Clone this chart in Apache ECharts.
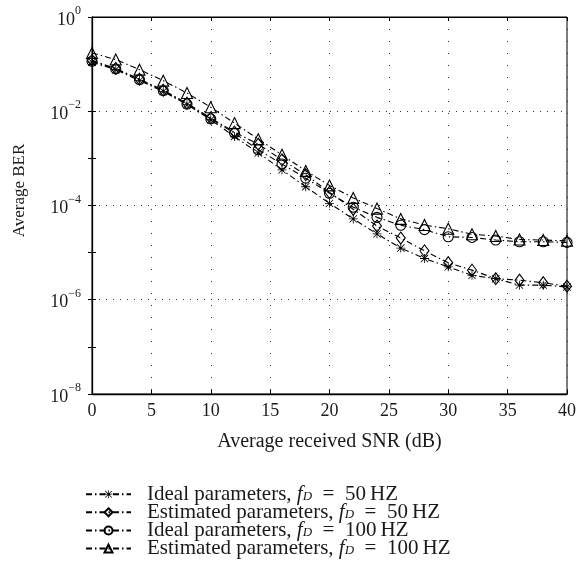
<!DOCTYPE html>
<html>
<head>
<meta charset="utf-8">
<script src="https://cdn.jsdelivr.net/npm/echarts@6/dist/echarts.min.js"></script>
<style>html,body{margin:0;padding:0;background:#fff;}#c{width:579px;height:575px;}</style>
</head>
<body>
<div id="c"></div>
<script>
var snr = [0,2,4,6,8,10,12,14,16,18,20,22,24,26,28,30,32,34,36,38,40];
var ideal50 = [0.11,0.076,0.0447,0.0263,0.0138,0.0066,0.0029,0.00131,5.7e-4,2.5e-4,1.11e-4,5.2e-5,2.5e-5,1.25e-5,7.5e-6,5.0e-6,3.3e-6,2.8e-6,2.04e-6,2.04e-6,1.87e-6];
var est50 = [0.12,0.081,0.048,0.028,0.0148,0.0072,0.0036,0.0020,9.3e-4,4.5e-4,1.9e-4,8.3e-5,3.66e-5,2.04e-5,1.09e-5,6.1e-6,4.25e-6,2.8e-6,2.6e-6,2.3e-6,1.94e-6];
var ideal100 = [0.115,0.079,0.0468,0.0273,0.0142,0.0069,0.00344,0.00152,7.6e-4,3.8e-4,1.82e-4,9.2e-5,5.6e-5,3.8e-5,3.07e-5,2.17e-5,2.1e-5,1.85e-5,1.7e-5,1.7e-5,1.65e-5];
var est100 = [0.173,0.125,0.0764,0.0446,0.0244,0.0122,0.0056,0.00256,0.00119,5.42e-4,2.67e-4,1.45e-4,8.6e-5,5.2e-5,3.85e-5,3.2e-5,2.45e-5,2.25e-5,1.9e-5,1.85e-5,1.78e-5];
var seriesNames = ['Ideal parameters, fD = 50 HZ','Estimated parameters, fD = 50 HZ','Ideal parameters, fD = 100 HZ','Estimated parameters, fD = 100 HZ'];
var legendLabels = [['Ideal parameters, ','50'],['Estimated parameters, ','50'],['Ideal parameters, ','100'],['Estimated parameters, ','100']];
var xTicks = {min:0, max:40, step:5};

var FONT = '"Liberation Serif", "DejaVu Serif", serif';
var TXT = '#1a1a1a';
var asterisk = 'path://M9.1 0L10.9 0L10.9 20L9.1 20ZM0 9.1L20 9.1L20 10.9L0 10.9ZM2.5 1.2L18.8 17.5L17.5 18.8L1.2 2.5ZM17.5 1.2L18.8 2.5L2.5 18.8L1.2 17.5Z';
var dashDot = [6,3,1.5,3];

function pairs(ys){ return snr.map(function(x,i){ return [x, ys[i]]; }); }
function mk(name, ys, symbol, size){
  return {
    name: name, type:'line', data: pairs(ys), xAxisIndex:0, yAxisIndex:0,
    symbol: symbol, symbolSize: size, showAllSymbol:true,
    lineStyle:{color:'#000', width:1.1, type:dashDot},
    itemStyle:{color: symbol===asterisk ? '#000' : 'rgba(255,255,255,0)', borderColor:'#000', borderWidth: symbol===asterisk?0:1.1},
    emphasis:{disabled:true}, animation:false, z:3
  };
}
function supLabel(v){
  var e = Math.round(Math.log(v)/Math.LN10);
  if (e % 2 !== 0) return '';
  var s = e < 0 ? '\u2212' + (-e) : '' + e;
  return '{b|10}{s|' + s + '}';
}
var labelRich = {
  b:{fontFamily:FONT, fontSize:18, color:TXT, lineHeight:24, verticalAlign:'bottom'},
  s:{fontFamily:FONT, fontSize:12, color:TXT, lineHeight:24, verticalAlign:'top'}
};
var chart = echarts.init(document.getElementById('c'), null, {renderer:'canvas'});
chart.setOption({
  animation:false,
  backgroundColor:'#fff',
  grid:{left:92, right:10, top:17, bottom:181, show:true, borderColor:'#000', borderWidth:1, backgroundColor:'transparent'},
  xAxis:[
    {type:'value', min:xTicks.min, max:xTicks.max, interval:xTicks.step, position:'bottom',
     axisLine:{lineStyle:{color:'#000', width:1.3}}, axisTick:{inside:true, length:4, lineStyle:{color:'#000'}},
     axisLabel:{fontFamily:FONT, fontSize:18, color:TXT, margin:8},
     splitLine:{show:true, lineStyle:{color:'#333', width:1, type:[1,11]}},
     name:'Average received SNR (dB)', nameLocation:'middle', nameGap:38,
     nameTextStyle:{fontFamily:FONT, fontSize:20, color:TXT}},
    {type:'value', min:xTicks.min, max:xTicks.max, interval:xTicks.step, position:'top',
     axisLine:{show:true, lineStyle:{color:'#000'}}, axisTick:{inside:true, length:4, lineStyle:{color:'#000'}},
     axisLabel:{show:false}, splitLine:{show:false}}
  ],
  yAxis:[
    {type:'log', logBase:10, min:1e-8, max:1, interval:1, position:'left',
     axisLine:{show:true, lineStyle:{color:'#000', width:1.3}}, axisTick:{inside:true, length:4, lineStyle:{color:'#000'}},
     axisLabel:{formatter:supLabel, rich:labelRich, margin:11},
     splitLine:{show:false},
     name:'Average BER', nameLocation:'middle', nameGap:64,
     nameTextStyle:{fontFamily:FONT, fontSize:17, color:TXT, padding:[0,0,0,30]}},
    {type:'log', logBase:10, min:1e-8, max:1, interval:1, position:'right',
     axisLine:{show:true, lineStyle:{color:'#000'}}, axisTick:{inside:true, length:4, lineStyle:{color:'#000'}},
     axisLabel:{show:false}, splitLine:{show:false}},
    {type:'log', logBase:10, min:1e-8, max:1, interval:2, position:'right', offset:0,
     axisLine:{show:false}, axisTick:{show:false}, axisLabel:{show:false},
     splitLine:{show:true, lineStyle:{color:'#333', width:1, type:[1,6]}}}
  ],
  legend:{
    orient:'vertical', left:85, top:483, padding:0, itemWidth:45, itemHeight:10, itemGap:-3.5,
    data:seriesNames,
    formatter:function(n){ var i = seriesNames.indexOf(n); var l = legendLabels[i];
      return '{n|' + l[0] + '}{i|f}{d|D}{n|  =  ' + l[1] + '\u2009HZ}'; },
    textStyle:{fontFamily:FONT, fontSize:21, color:TXT, padding:[0,0,0,11],
      rich:{
        n:{fontFamily:FONT, fontSize:21, color:TXT, lineHeight:17.7},
        i:{fontFamily:FONT, fontSize:21, fontStyle:'italic', color:TXT, lineHeight:17.7},
        d:{fontFamily:FONT, fontSize:13, fontStyle:'italic', color:TXT, lineHeight:17.7, verticalAlign:'bottom', padding:[7,0,0,0]}
      }},
    selectedMode:false
  },
  series:[
    mk(seriesNames[0], ideal50, asterisk, 9),
    mk(seriesNames[1], est50, 'diamond', [9,12]),
    mk(seriesNames[2], ideal100, 'circle', 10),
    mk(seriesNames[3], est100, 'triangle', 11)
  ]
});
</script>
</body>
</html>
